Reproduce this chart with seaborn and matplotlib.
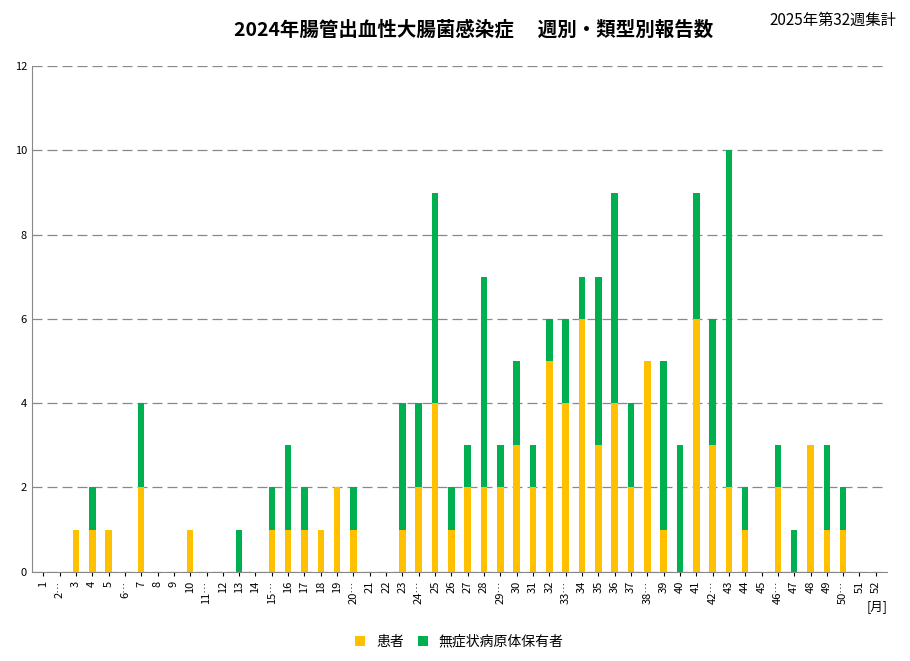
import matplotlib
matplotlib.use("Agg")
import matplotlib.pyplot as plt
import seaborn as sns
import pandas as pd
import numpy as np

plt.rcParams["font.family"] = "Noto Sans CJK JP"

weeks = list(range(1, 53))
tick_labels = [str(w) for w in weeks]
for w in [2, 6, 11, 15, 20, 24, 29, 33, 38, 42, 46, 50]:
    tick_labels[w - 1] = f"{w}…"
patients = [0,0,1,1,1,0,2,0,0,1,0,0,0,0,1,1,1,1,2,1,0,0,1,2,4,1,2,2,2,3,
            2,5,4,6,3,4,2,5,1,0,6,3,2,1,0,2,0,3,1,1,0,0]
carriers = [0,0,0,1,0,0,2,0,0,0,0,0,1,0,1,2,1,0,0,1,0,0,3,2,5,1,1,5,1,2,
            1,1,2,1,4,5,2,0,4,3,3,3,8,1,0,1,1,0,2,1,0,0]

df = pd.DataFrame({"week": tick_labels, "患者": patients, "無症状病原体保有者": carriers})
df["total"] = df["患者"] + df["無症状病原体保有者"]

fig, ax = plt.subplots(figsize=(9.1, 6.61), dpi=100)
fig.subplots_adjust(left=0.035, right=0.975, top=0.9, bottom=0.135)
sns.barplot(data=df, x="week", y="total", color="#00B050", width=0.4, ax=ax, saturation=1, label="無症状病原体保有者")
sns.barplot(data=df, x="week", y="患者", color="#FFC000", width=0.4, ax=ax, saturation=1, label="患者")
ax.set_ylim(0, 12)
ax.set_yticks(range(0, 13, 2))
ax.yaxis.grid(True, linestyle=(0, (8, 4)), color="#888888", linewidth=0.9)
ax.set_axisbelow(True)
ax.set_xlim(-0.7, 51.7)
ax.tick_params(axis="x", rotation=90, labelsize=8, length=3)
ax.tick_params(axis="y", labelsize=8, length=0)
ax.set_xlabel("")
ax.set_ylabel("")
for s in ["top", "right"]:
    ax.spines[s].set_visible(False)
ax.spines["left"].set_color("#888888")
ax.spines["bottom"].set_color("#888888")
h, l = ax.get_legend_handles_labels()
ax.legend(h[::-1], l[::-1], loc="upper center", bbox_to_anchor=(0.5, -0.1), ncol=2,
          frameon=False, fontsize=10, handlelength=0.7, handleheight=0.7, columnspacing=1)
fig.text(0.52, 0.955, "2024年腸管出血性大腸菌感染症　 週別・類型別報告数", ha="center", va="center",
         fontsize=14, fontweight="bold")
fig.text(0.985, 0.97, "2025年第32週集計", ha="right", va="center", fontsize=11)
fig.text(0.975, 0.083, "[月]", ha="right", va="center", fontsize=9)
fig.savefig("out.png")
